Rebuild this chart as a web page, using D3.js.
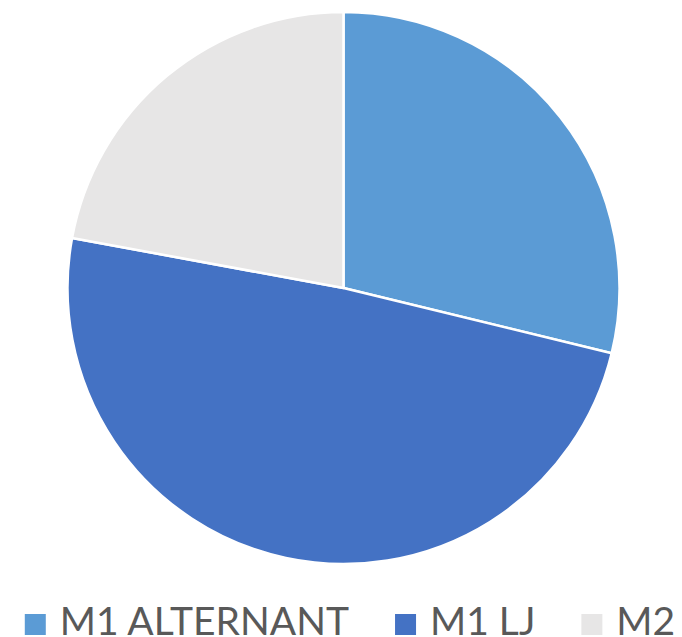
<!DOCTYPE html>
<html>
<head>
<meta charset="utf-8">
<script src="https://cdn.jsdelivr.net/npm/d3@7"></script>
<style>
  body { margin: 0; background: #fff; }
</style>
</head>
<body>
<div id="chart"></div>
<script>
// Data
const categories = ["M1 ALTERNANT", "M1 LJ", "M2"];
const values = [28.8, 49.1, 22.1];
const colors = ["#5B9BD5", "#4472C4", "#E7E6E6"];

const width = 682;
const height = 637;
const cx = 343.5, cy = 288, radius = 276;

const svg = d3.select("#chart")
  .append("svg")
  .attr("width", width)
  .attr("height", height);

const color = d3.scaleOrdinal()
  .domain(categories)
  .range(colors);

// Pie, clockwise from 12 o'clock, no sorting
const pie = d3.pie()
  .sort(null)
  .value(d => d.value);

const arc = d3.arc()
  .innerRadius(0)
  .outerRadius(radius);

const data = categories.map((c, i) => ({ name: c, value: values[i] }));

svg.append("g")
  .attr("transform", `translate(${cx},${cy})`)
  .selectAll("path")
  .data(pie(data))
  .enter()
  .append("path")
    .attr("d", arc)
    .attr("fill", d => color(d.data.name))
    .attr("stroke", "#fff")
    .attr("stroke-width", 2.5)
    .attr("stroke-linejoin", "round");

// Legend at the bottom, laid out from measured text widths
const legend = svg.append("g");
const boxSize = 21;
const textGap = 14;
const itemGap = 46;
const fontFamily = "Lato, 'Open Sans', sans-serif";

// fit the font so the first label is about as wide as in the reference
const probe = svg.append("text")
  .attr("font-family", fontFamily)
  .attr("font-size", 100)
  .text(categories[0]);
const fontSize = Math.floor(100 * 292 / probe.node().getComputedTextLength());
probe.remove();

const items = categories.map(c => {
  const g = legend.append("g");
  g.append("rect")
    .attr("width", boxSize)
    .attr("height", boxSize)
    .attr("y", 614)
    .attr("fill", color(c));
  const t = g.append("text")
    .attr("x", boxSize + textGap)
    .attr("y", 635)
    .attr("font-family", fontFamily)
    .attr("font-size", fontSize)
    .attr("fill", "#595959")
    .text(c);
  return { g, w: boxSize + textGap + t.node().getComputedTextLength() };
});

const total = d3.sum(items, d => d.w) + itemGap * (items.length - 1);
let x = 350 - total / 2;
items.forEach(it => {
  it.g.attr("transform", `translate(${x},0)`);
  x += it.w + itemGap;
});
</script>
</body>
</html>
